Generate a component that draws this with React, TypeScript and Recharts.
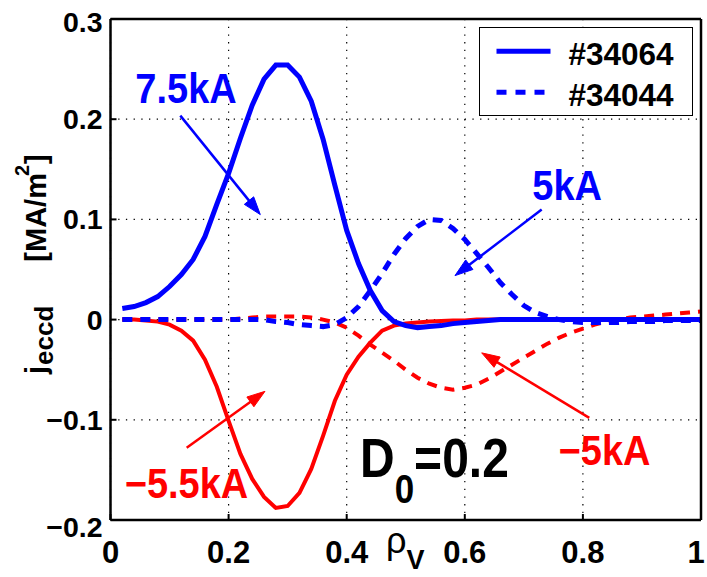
import React from 'react';
import { LineChart, Line, XAxis, YAxis, CartesianGrid, ReferenceLine, ReferenceDot, Legend } from 'recharts';

const FONT = '"Liberation Sans", Arial, Helvetica, sans-serif';
const BLUE = '#0000ff';
const RED = '#ff0000';

// normalized radius rho_V
const rho = [
  0.02, 0.04, 0.06, 0.08, 0.10, 0.12, 0.14, 0.16, 0.18, 0.20,
  0.22, 0.24, 0.26, 0.28, 0.30, 0.32, 0.34, 0.36, 0.38, 0.40,
  0.42, 0.44, 0.46, 0.48, 0.50, 0.52, 0.54, 0.56, 0.58, 0.60,
  0.62, 0.64, 0.66, 0.68, 0.70, 0.72, 0.74, 0.76, 0.78, 0.80,
  0.82, 0.84, 0.86, 0.88, 0.90, 0.92, 0.94, 0.96, 0.98, 1.00,
];

// #34064, +7.5 kA (blue solid)
const j34064co = [
  0.011, 0.013, 0.017, 0.023, 0.033, 0.045, 0.060, 0.083, 0.115, 0.146,
  0.181, 0.214, 0.240, 0.254, 0.254, 0.242, 0.218, 0.180, 0.134, 0.089,
  0.056, 0.029, 0.009, -0.002, -0.006, -0.008, -0.007, -0.006, -0.004, -0.003,
  -0.002, -0.001, 0, 0, 0, 0, 0, 0, 0, 0,
  0, 0, 0, 0, 0, 0, 0, 0, 0, 0,
];

// #34064, -5.5 kA (red solid)
const j34064ctr = [
  0, 0, -0.001, -0.002, -0.005, -0.011, -0.021, -0.040, -0.067, -0.101,
  -0.134, -0.159, -0.177, -0.188, -0.186, -0.173, -0.149, -0.116, -0.081, -0.055,
  -0.037, -0.023, -0.011, -0.006, -0.004, -0.003, -0.002, -0.0015, -0.001, -0.001,
  0, 0, 0, 0, 0, 0, 0, 0, 0, 0,
  0, 0, 0, 0, 0, 0, 0, 0, 0, 0,
];

// #34044, +5 kA (blue dashed)
const j34044co = [
  0, 0, 0, 0, 0, 0, 0, 0, 0, 0,
  0, 0, 0, -0.002, -0.003, -0.005, -0.006, -0.007, -0.005, 0.002,
  0.013, 0.029, 0.046, 0.065, 0.081, 0.093, 0.100, 0.099, 0.091, 0.080,
  0.066, 0.052, 0.037, 0.025, 0.014, 0.007, 0.003, 0.000, -0.002, -0.003,
  -0.003, -0.003, -0.003, -0.002, -0.002, -0.002, -0.001, -0.001, -0.001, -0.001,
];

// #34044, -5 kA (red dashed)
const j34044ctr = [
  0, 0, 0, 0, 0, 0, 0, 0, 0, 0,
  0.001, 0.002, 0.003, 0.003, 0.003, 0.003, 0.002, 0.000, -0.003, -0.008,
  -0.016, -0.025, -0.033, -0.041, -0.050, -0.058, -0.064, -0.068, -0.070, -0.068,
  -0.065, -0.059, -0.052, -0.045, -0.038, -0.031, -0.024, -0.018, -0.013, -0.009,
  -0.005, -0.002, 0.000, 0.002, 0.003, 0.004, 0.005, 0.006, 0.007, 0.008,
];

const xTicks = [0, 0.2, 0.4, 0.6, 0.8, 1];
const yTicks = [-0.2, -0.1, 0, 0.1, 0.2, 0.3];
const shotNames = ['#34064', '#34044'];

// annotation anchors in data units
const annotationTexts = [
  { text: '7.5kA', color: BLUE, x: 0.1279, y: 0.2166 },
  { text: '5kA', color: BLUE, x: 0.7734, y: 0.1198 },
  { text: '\u22125.5kA', color: RED, x: 0.1287, y: -0.1776 },
  { text: '\u22125kA', color: RED, x: 0.8366, y: -0.1447 },
];
const arrows = [
  { color: BLUE, x1: 0.1182, y1: 0.2036, x2: 0.2537, y2: 0.1048 },
  { color: BLUE, x1: 0.7302, y1: 0.1098, x2: 0.5834, y2: 0.0439 },
  { color: RED, x1: 0.1290, y1: -0.1280, x2: 0.2616, y2: -0.0716 },
  { color: RED, x1: 0.8108, y1: -0.0981, x2: 0.6286, y2: -0.0332 },
];
const d0Anchor = { x: 0.4225, y: -0.1567 };

const toRows = (vals: number[]) => rho.map((r, i) => ({ rho: r, v: vals[i] }));

const fmt = (v: number) => {
  if (v === 0) return '0';
  return (v < 0 ? '\u2212' : '') + String(Math.abs(v));
};

const BottomTick = (p: any) => {
  const v = p.payload.value;
  const shift = v === 1 ? -5 : 0;
  return (
    <g>
      <line x1={p.x} x2={p.x} y1={p.y} y2={p.y - 6} stroke="#000" strokeWidth={2} />
      <text x={p.x + shift} y={p.y + 43} textAnchor="middle" fontFamily={FONT} fontWeight="bold" fontSize={31} fill="#000">
        {fmt(v)}
      </text>
    </g>
  );
};
const TopTick = (p: any) => (
  <line x1={p.x} x2={p.x} y1={p.y} y2={p.y + 6} stroke="#000" strokeWidth={2} />
);
const LeftTick = (p: any) => {
  const v = p.payload.value;
  const adj = v === 0.3 ? 3 : v === -0.2 ? 7 : 0;
  return (
    <g>
      <line x1={p.x} x2={p.x + 6} y1={p.y} y2={p.y} stroke="#000" strokeWidth={2} />
      <text x={p.x - 8} y={p.y + 10 + adj} textAnchor="end" fontFamily={FONT} fontWeight="bold" fontSize={28.5} fill="#000">
        {fmt(v)}
      </text>
    </g>
  );
};
const RightTick = (p: any) => (
  <line x1={p.x} x2={p.x - 6} y1={p.y} y2={p.y} stroke="#000" strokeWidth={2} />
);

const YTitle = () => (
  <text transform="translate(46 374) rotate(-90)" textAnchor="start" fontFamily={FONT} fontWeight="bold" fontSize={29} fill="#000">
    <tspan>j</tspan>
    <tspan fontSize={26} dy={7} dx={1}>eccd</tspan>
    <tspan dy={-7} dx={44}>[MA/m</tspan>
    <tspan fontSize={20} dy={-17} dx={-3}>2</tspan>
    <tspan dy={17} dx={1}>]</tspan>
  </text>
);

const XTitle = () => (
  <text x={386} y={553} fontFamily={FONT} fill="#000">
    <tspan fontSize={36}>ρ</tspan>
    <tspan fontSize={27} fontWeight="bold" dy={16} dx={0}>V</tspan>
  </text>
);

const makeArrow = (color: string) => (p: any) => {
  const { x1, y1, x2, y2 } = p;
  const dx = x2 - x1;
  const dy = y2 - y1;
  const L = Math.hypot(dx, dy) || 1;
  const ux = dx / L;
  const uy = dy / L;
  const hl = 18;
  const hw = 6;
  const bx = x2 - ux * hl;
  const by = y2 - uy * hl;
  return (
    <g>
      <line x1={x1} y1={y1} x2={bx + ux * 2} y2={by + uy * 2} stroke={color} strokeWidth={2.5} />
      <polygon
        points={`${x2},${y2} ${bx - uy * hw},${by + ux * hw} ${bx + uy * hw},${by - ux * hw}`}
        fill={color}
        stroke={color}
        strokeWidth={1}
      />
    </g>
  );
};

const makeText = (text: string, color: string) => (p: any) => (
  <text
    transform={`translate(${p.cx} ${p.cy}) scale(1 1.1)`}
    x={0}
    y={0}
    textAnchor="middle"
    fontFamily={FONT}
    fontWeight="bold"
    fontSize={38}
    fill={color}
  >
    {text}
  </text>
);

const D0Text = (p: any) => (
  <text
    transform={`translate(${p.cx} ${p.cy}) scale(1 1.15)`}
    x={0}
    y={0}
    textAnchor="start"
    fontFamily={FONT}
    fontWeight="bold"
    fontSize={48}
    fill="#000"
  >
    <tspan>D</tspan>
    <tspan fontSize={35} dy={23}>0</tspan>
    <tspan dy={-23}>=0.2</tspan>
  </text>
);

const renderLegend = (props: any) => {
  const items = (props.payload || [])
    .filter((e: any) => shotNames.indexOf(e.value) >= 0)
    .sort((a: any, b: any) => shotNames.indexOf(a.value) - shotNames.indexOf(b.value));
  return (
    <div
      style={{
        width: 214,
        height: 89,
        boxSizing: 'border-box',
        border: '1.5px solid #000',
        background: '#fff',
        position: 'relative',
      }}
    >
      <svg width={211} height={86} style={{ position: 'absolute', left: 0, top: 0 }}>
        {items.map((e: any, i: number) => {
          const dash = e.payload && e.payload.strokeDasharray;
          const cy = 23.2 + i * 41;
          return (
            <g key={i}>
              <line
                x1={16.5}
                x2={dash ? 64.5 : 70.5}
                y1={cy}
                y2={cy}
                stroke={e.color}
                strokeWidth={5}
                strokeDasharray={dash ? '10 9' : undefined}
              />
              <text x={88.5} y={cy + 13.3} fontFamily={FONT} fontWeight="bold" fontSize={31.5} fill="#000">
                {e.value}
              </text>
            </g>
          );
        })}
      </svg>
    </div>
  );
};

export default function App() {
  return (
    <div style={{ position: 'absolute', left: 0, top: 0, width: 707, height: 577, background: '#fff' }}>
      <LineChart width={707} height={577} margin={{ top: 18, right: 5, bottom: 56, left: 109.5 }}>
        <CartesianGrid xAxisId="b" yAxisId="l" stroke="#000" strokeDasharray="1.3 6.4" strokeWidth={1.2} />
        <XAxis
          xAxisId="b"
          type="number"
          dataKey="rho"
          domain={[0, 1]}
          ticks={xTicks}
          interval={0}
          height={1}
          tickSize={0}
          tickMargin={0}
          tickLine={false}
          tick={BottomTick}
          axisLine={{ stroke: '#000', strokeWidth: 2.5 }}
          label={XTitle}
        />
        <XAxis
          xAxisId="t"
          orientation="top"
          type="number"
          dataKey="rho"
          domain={[0, 1]}
          ticks={xTicks}
          interval={0}
          height={1}
          tickSize={0}
          tickMargin={0}
          tickLine={false}
          tick={TopTick}
          axisLine={{ stroke: '#000', strokeWidth: 2.5 }}
        />
        <YAxis
          yAxisId="l"
          type="number"
          domain={[-0.2, 0.3]}
          ticks={yTicks}
          interval={0}
          width={1}
          tickSize={0}
          tickMargin={0}
          tickLine={false}
          tick={LeftTick}
          axisLine={{ stroke: '#000', strokeWidth: 2.5 }}
          label={YTitle}
        />
        <YAxis
          yAxisId="r"
          orientation="right"
          type="number"
          domain={[-0.2, 0.3]}
          ticks={yTicks}
          interval={0}
          width={1}
          tickSize={0}
          tickMargin={0}
          tickLine={false}
          tick={RightTick}
          axisLine={{ stroke: '#000', strokeWidth: 2.5 }}
        />
        <Line
          xAxisId="b"
          yAxisId="l"
          data={toRows(j34064ctr)}
          dataKey="v"
          name="#34064 ctr"
          type="linear"
          stroke={RED}
          strokeWidth={4}
          dot={false}
          activeDot={false}
          legendType="none"
          isAnimationActive={false}
        />
        <Line
          xAxisId="b"
          yAxisId="l"
          data={toRows(j34044ctr)}
          dataKey="v"
          name="#34044 ctr"
          type="linear"
          stroke={RED}
          strokeWidth={4}
          strokeDasharray="10 8"
          dot={false}
          activeDot={false}
          legendType="none"
          isAnimationActive={false}
        />
        <Line
          xAxisId="b"
          yAxisId="l"
          data={toRows(j34044co)}
          dataKey="v"
          name={shotNames[1]}
          type="linear"
          stroke={BLUE}
          strokeWidth={5}
          strokeDasharray="10 8"
          dot={false}
          activeDot={false}
          isAnimationActive={false}
        />
        <Line
          xAxisId="b"
          yAxisId="l"
          data={toRows(j34064co)}
          dataKey="v"
          name={shotNames[0]}
          type="linear"
          stroke={BLUE}
          strokeWidth={5}
          dot={false}
          activeDot={false}
          isAnimationActive={false}
        />
        {arrows.map((a, i) => (
          <ReferenceLine
            key={'a' + i}
            xAxisId="b"
            yAxisId="l"
            segment={[{ x: a.x1, y: a.y1 }, { x: a.x2, y: a.y2 }]}
            stroke={a.color}
            shape={makeArrow(a.color)}
          />
        ))}
        {annotationTexts.map((t, i) => (
          <ReferenceDot
            key={'t' + i}
            xAxisId="b"
            yAxisId="l"
            x={t.x}
            y={t.y}
            r={1}
            shape={makeText(t.text, t.color)}
          />
        ))}
        <ReferenceDot xAxisId="b" yAxisId="l" x={d0Anchor.x} y={d0Anchor.y} r={1} shape={D0Text} />
        <Legend
          layout="horizontal"
          verticalAlign="middle"
          align="center"
          wrapperStyle={{ left: 479, top: 27, width: 214, height: 89 }}
          content={renderLegend}
        />
      </LineChart>
    </div>
  );
}
